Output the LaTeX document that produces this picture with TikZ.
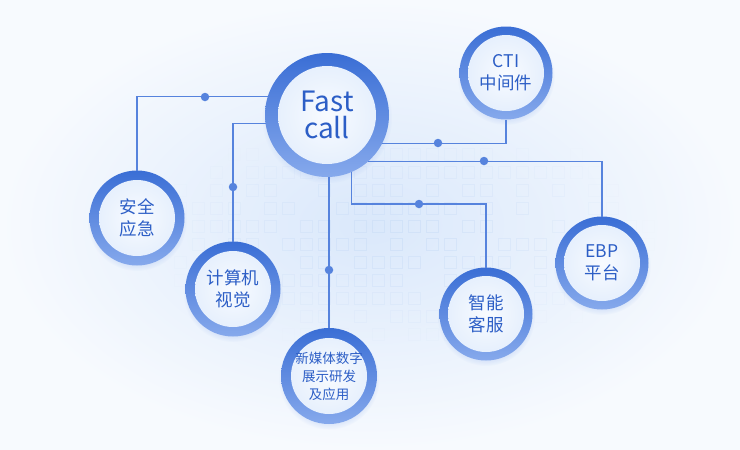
\documentclass[tikz,border=0pt]{standalone}
\usepackage{fontspec}
\setmainfont{Noto Sans CJK SC}
\usetikzlibrary{shadows}

\definecolor{ringhi}{HTML}{3A6ED5}
\definecolor{ringlo}{HTML}{86A9EC}
\definecolor{discin}{HTML}{F8FBFF}
\definecolor{discout}{HTML}{E2EDFC}
\definecolor{txtblue}{HTML}{2C5EC6}
\definecolor{linec}{HTML}{5683DD}
\definecolor{bgin}{HTML}{DAE8FB}
\definecolor{bgout}{HTML}{F7FAFE}
\definecolor{gridc}{HTML}{CADDF7}

\begin{document}
\begin{tikzpicture}[x=1pt,y=-1pt]
    % Define styles
    \tikzstyle{ring} = [circle, inner sep=0, outer sep=0, top color=ringhi, bottom color=ringlo,
                        text=txtblue, align=center,
                        circular drop shadow={shadow xshift=0pt, shadow yshift=-3pt, shadow scale=1.05, fill=ringlo, opacity=0.25}]
    \tikzstyle{hub} = [ring, minimum size=124pt, font=\fontsize{28}{27}\selectfont,
                       path picture={\shade[inner color=discin, outer color=discout] (path picture bounding box.center) circle (49pt);}]
    \tikzstyle{spoke} = [ring, minimum size=93pt, font=\fontsize{17.5}{22}\selectfont,
                         path picture={\shade[inner color=discin, outer color=discout] (path picture bounding box.center) circle (38pt);}]
    \tikzstyle{link} = [draw=linec, line width=1.1pt]
    \tikzstyle{joint} = [circle, minimum size=8.5pt, inner sep=0, fill=linec]
    \tikzstyle{gridsq} = [draw=gridc, line width=0.9pt]

    % Background
    \useasboundingbox (0,0) rectangle (740,450);
    \shade[inner color=bgin, outer color=bgout] (0,0) rectangle (740,450);
    \pgfmathsetseed{11}
    \foreach \i in {0,...,31}{
        \foreach \j in {0,...,13}{
            \pgfmathsetmacro{\op}{0.7*max(0,0.9-sqrt(((\i-16)/16)^2+((\j-6.5)/7)^2))*(rnd>0.3)}
            \draw[gridsq, opacity=\op] (102+18*\i,112+18*\j) rectangle ++(12,12);
        }
    }

    % Nodes positioned absolutely
    \node[hub] (fastcall) at (327,115) {Fast\\call};
    \node[spoke] (cti) at (506,73) {CTI\\中间件};
    \node[spoke] (ebp) at (602,263) {EBP\\平台};
    \node[spoke] (kefu) at (486,314) {智能\\客服};
    \node[spoke, minimum size=95pt] (anquan) at (137,218) {安全\\应急};
    \node[spoke, minimum size=95pt] (shijue) at (233,289) {计算机\\视觉};
    \node[spoke, minimum size=96pt, font=\fontsize{13.5}{18}\selectfont] (meiti) at (329,376) {新媒体数字\\展示研发\\及应用};

    % Connectors
    \draw[link] (fastcall.163) -| (anquan.north);
    \draw[link] (fastcall.188) -| (shijue.north);
    \draw[link] (meiti.north) -- (meiti.north |- fastcall.south);
    \draw[link] (fastcall.293) |- (419,204) -| (kefu.north);
    \draw[link] (fastcall.312) -| (ebp.north);
    \draw[link] (fastcall.333) -| (cti.south);

    % Joints
    \node[joint] (jaq) at (205,97) {};
    \node[joint] (jsj) at (233,187) {};
    \node[joint] (jmt) at (329,270) {};
    \node[joint] (jkf) at (419,204) {};
    \node[joint] (jeb) at (484,161) {};
    \node[joint] (jct) at (438,143) {};
\end{tikzpicture}
\end{document}
